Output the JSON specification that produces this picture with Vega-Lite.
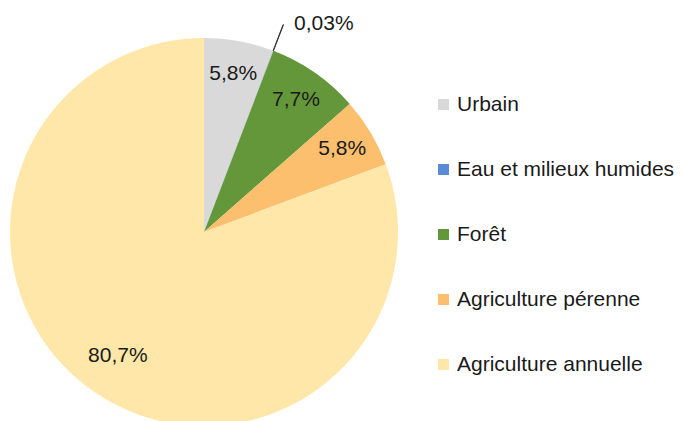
{
  "$schema": "https://vega.github.io/schema/vega-lite/v6.json",
  "width": 408,
  "height": 464,
  "padding": 0,
  "autosize": {"type": "pad"},
  "background": "white",
  "config": {"view": {"stroke": null}, "font": "Liberation Sans"},
  "data": {
    "values": [
      {"cat": "Urbain", "value": 5.8, "label": "5,8%", "order": 1},
      {"cat": "Eau et milieux humides", "value": 0.03, "label": "0,03%", "order": 2},
      {"cat": "Forêt", "value": 7.7, "label": "7,7%", "order": 3},
      {"cat": "Agriculture pérenne", "value": 5.8, "label": "5,8%", "order": 4},
      {"cat": "Agriculture annuelle", "value": 80.7, "label": "80,7%", "order": 5}
    ]
  },
  "layer": [
    {
      "mark": {"type": "arc", "radius": 194},
      "encoding": {
        "theta": {"field": "value", "type": "quantitative", "stack": true},
        "order": {"field": "order", "type": "quantitative"},
        "color": {
          "field": "cat",
          "type": "nominal",
          "scale": {
            "domain": ["Urbain", "Eau et milieux humides", "Forêt", "Agriculture pérenne", "Agriculture annuelle"],
            "range": ["#d9d9d9", "#5b8bd8", "#64973a", "#fcbf6e", "#fee7a8"]
          },
          "legend": {
            "orient": "none",
            "legendX": 433,
            "legendY": 94,
            "title": null,
            "symbolType": "square",
            "symbolSize": 121,
            "symbolStrokeWidth": 0,
            "labelFontSize": 21,
            "labelFont": "Liberation Sans",
            "labelColor": "#1a1a1a",
            "labelOffset": 3,
            "rowPadding": 43,
            "labelLimit": 300
          }
        }
      }
    },
    {
      "mark": {"type": "text", "radius": 161, "fontSize": 21, "font": "Liberation Sans", "color": "#1a1a1a"},
      "encoding": {
        "theta": {"field": "value", "type": "quantitative", "stack": true},
        "order": {"field": "order", "type": "quantitative"},
        "text": {
          "condition": {"test": "datum.cat === 'Eau et milieux humides' || datum.cat === 'Agriculture annuelle'", "value": ""},
          "field": "label"
        }
      }
    },
    {
      "mark": {"type": "text", "radius": 151, "fontSize": 21, "font": "Liberation Sans", "color": "#1a1a1a"},
      "encoding": {
        "theta": {"field": "value", "type": "quantitative", "stack": true},
        "order": {"field": "order", "type": "quantitative"},
        "text": {
          "condition": {"test": "datum.cat === 'Agriculture annuelle'", "field": "label"},
          "value": ""
        }
      }
    },
    {
      "transform": [
        {"stack": "value", "groupby": [], "sort": [{"field": "order", "order": "ascending"}], "as": ["v0", "v1"]},
        {"filter": "datum.cat === 'Eau et milieux humides'"}
      ],
      "layer": [
        {
          "mark": {"type": "arc", "radius": 222, "radius2": 194, "fill": null, "stroke": "#333333", "strokeWidth": 1},
          "encoding": {
            "theta": {"field": "v0", "type": "quantitative", "scale": {"domain": [0, 100.03]}},
            "theta2": {"field": "v1"}
          }
        },
        {
          "mark": {"type": "text", "radius": 222, "dx": 11, "dy": -1, "align": "left", "fontSize": 21, "font": "Liberation Sans", "color": "#1a1a1a"},
          "encoding": {
            "theta": {"field": "v0", "type": "quantitative", "scale": {"domain": [0, 100.03]}},
            "text": {"field": "label"}
          }
        }
      ]
    }
  ],
  "resolve": {"scale": {"theta": "independent"}}
}
